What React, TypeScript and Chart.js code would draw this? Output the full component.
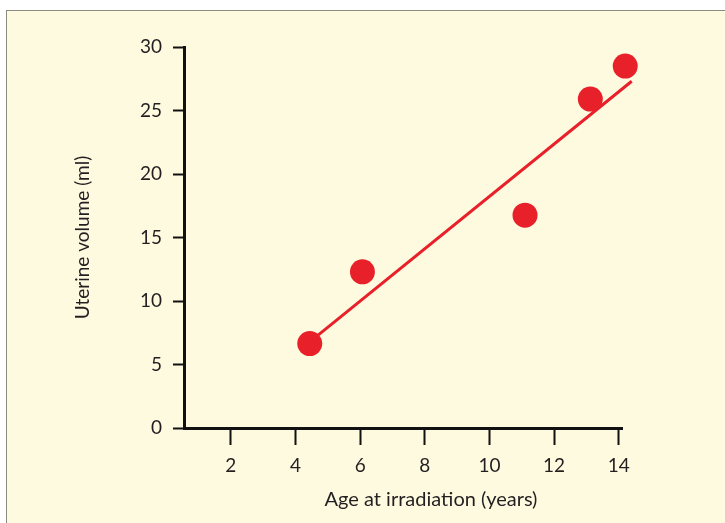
import React, { useEffect, useRef } from "react";
import { Chart, registerables } from "chart.js";

Chart.register(...registerables);

const ages = [4.44, 6.07, 11.1, 13.12, 14.2];
const volumes = [6.65, 12.3, 16.76, 25.9, 28.5];
const fitAges = [4.45, 14.4];
const fitVolumes = [6.8, 27.3];
const xTicks = [2, 4, 6, 8, 10, 12, 14];
const yTicks = [0, 5, 10, 15, 20, 25, 30];
const xTitle = "Age at irradiation (years)";
const yTitle = "Uterine volume (ml)";

const RED = "#e8202a";
const TEXT = "#231f20";
const FONT = "Lato, 'Open Sans', sans-serif";

const xTitlePlugin = {
  id: "xTitleOffset",
  afterDraw(chart: any) {
    const { ctx, chartArea } = chart;
    ctx.save();
    ctx.font = `20px ${FONT}`;
    ctx.fillStyle = TEXT;
    ctx.textAlign = "center";
    ctx.textBaseline = "middle";
    const cx = (chartArea.left + chartArea.right) / 2 + 28;
    ctx.fillText(xTitle, cx, chartArea.bottom + 72);
    ctx.restore();
  },
};

export default function App() {
  const ref = useRef<HTMLCanvasElement | null>(null);
  useEffect(() => {
    document.body.style.margin = "0";
    const ctx = ref.current!.getContext("2d")!;
    const chart = new Chart(ctx, {
      type: "scatter",
      data: {
        datasets: [
          {
            type: "line",
            data: fitAges.map((x, i) => ({ x, y: fitVolumes[i] })),
            borderColor: RED,
            borderWidth: 3,
            pointRadius: 0,
            clip: false as any,
            order: 2,
          } as any,
          {
            data: ages.map((x, i) => ({ x, y: volumes[i] })),
            backgroundColor: RED,
            borderColor: RED,
            borderWidth: 0,
            pointRadius: 12.5,
            clip: false as any,
            order: 1,
          } as any,
        ],
      },
      plugins: [xTitlePlugin],
      options: {
        animation: false,
        responsive: false,
        events: [],
        layout: { padding: { left: 71, top: 47, right: 103, bottom: 0 } },
        plugins: { legend: { display: false }, tooltip: { enabled: false } },
        scales: {
          x: {
            type: "linear",
            min: 0.55,
            max: 14.1,
            afterBuildTicks: (s: any) => {
              s.ticks = xTicks.map((v) => ({ value: v }));
            },
            afterFit: (s: any) => {
              s.height = 95;
            },
            border: { display: true, color: "#111", width: 3 },
            grid: {
              drawOnChartArea: false,
              drawTicks: true,
              tickLength: 17,
              tickColor: "#111",
              tickWidth: 2,
            },
            ticks: {
              color: TEXT,
              font: { family: FONT, size: 19 },
              padding: 9,
              maxRotation: 0,
            },
            title: { display: false },
          },
          y: {
            type: "linear",
            min: 0,
            max: 30,
            afterBuildTicks: (s: any) => {
              s.ticks = yTicks.map((v) => ({ value: v }));
            },
            afterFit: (s: any) => {
              s.width = 113;
            },
            border: { display: true, color: "#111", width: 3 },
            grid: {
              drawOnChartArea: false,
              drawTicks: true,
              tickLength: 11,
              tickColor: "#111",
              tickWidth: 2,
            },
            ticks: {
              color: TEXT,
              font: { family: FONT, size: 19 },
              padding: 11,
            },
            title: {
              display: true,
              text: yTitle,
              color: TEXT,
              font: { family: FONT, size: 19 },
              padding: { top: 0, bottom: 0 },
            },
          },
        },
      },
    });
    return () => chart.destroy();
  }, []);
  return (
    <div
      style={{
        position: "relative",
        width: 725,
        height: 523,
        overflow: "hidden",
        background: "#ffffff",
      }}
    >
      <div
        style={{
          position: "absolute",
          left: 6,
          top: 10,
          width: 740,
          height: 540,
          background: "#fefae0",
          border: "1.5px solid #8a8a80",
        }}
      />
      <canvas
        ref={ref}
        width={725}
        height={523}
        style={{ position: "absolute", left: 0, top: 0 }}
      />
    </div>
  );
}
